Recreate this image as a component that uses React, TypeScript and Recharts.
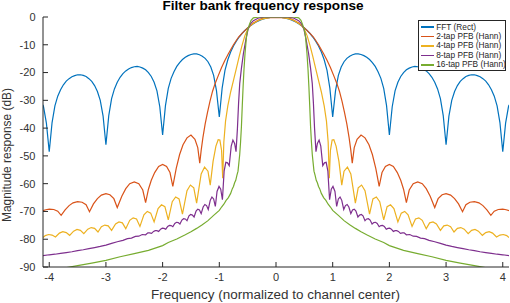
import React from "react";
import { LineChart, Line, XAxis, YAxis, Legend } from "recharts";

const xTicks = [-4, -3, -2, -1, 0, 1, 2, 3, 4];
const yTicks = [-90, -80, -70, -60, -50, -40, -30, -20, -10, 0];
const yMinorTicks = [
  -90, -88, -86, -84, -82, -80, -78, -76, -74, -72, -70, -68, -66, -64, -62, -60, -58, -56, -54, -52, -50, -48, -46,
  -44, -42, -40, -38, -36, -34, -32, -30, -28, -26, -24, -22, -20, -18, -16, -14, -12, -10, -8, -6, -4, -2, 0,
];

// positive-frequency half of each response, [freq, dB]; curves are symmetric about 0
const fftHalf: [number, number][] = [
  [0, 0], [0.05, -0.04], [0.1, -0.14], [0.15, -0.32], [0.2, -0.58], [0.25, -0.91], [0.3, -1.32], [0.35, -1.82],
  [0.4, -2.42], [0.45, -3.11], [0.5, -3.92], [0.55, -4.86], [0.6, -5.94], [0.65, -7.2], [0.7, -8.68], [0.75, -10.45],
  [0.8, -12.62], [0.85, -15.39], [0.9, -19.22], [0.95, -25.6], [1.0, -36], [1.05, -26.5], [1.1, -21.0], [1.15, -18.0],
  [1.2, -16.1], [1.25, -14.9], [1.3, -14.1], [1.35, -13.6], [1.4, -13.3], [1.45, -13.3], [1.5, -13.5], [1.55, -13.9],
  [1.6, -14.5], [1.65, -15.3], [1.7, -16.4], [1.75, -17.8], [1.8, -19.7], [1.85, -22.1], [1.9, -25.7], [1.95, -31.9],
  [2.0, -42.5], [2.05, -32.3], [2.1, -26.6], [2.15, -23.5], [2.2, -21.4], [2.25, -20.0], [2.3, -19.0], [2.35, -18.4],
  [2.4, -18.0], [2.45, -17.8], [2.5, -17.9], [2.55, -18.2], [2.6, -18.7], [2.65, -19.4], [2.7, -20.4], [2.75, -21.7],
  [2.8, -23.5], [2.85, -25.9], [2.9, -29.4], [2.95, -35.5], [3.0, -46], [3.05, -35.7], [3.1, -30.0], [3.15, -26.8],
  [3.2, -24.7], [3.25, -23.2], [3.3, -22.2], [3.35, -21.4], [3.4, -21.0], [3.45, -20.8], [3.5, -20.8], [3.55, -21.1],
  [3.6, -21.5], [3.65, -22.2], [3.7, -23.1], [3.75, -24.4], [3.8, -26.2], [3.85, -28.5], [3.9, -32.0], [3.95, -38.0],
  [4.0, -48.5], [4.05, -38.2], [4.1, -32.4], [4.11, -31.6],
];

const pfb2Half: [number, number][] = [
  [0, -0.2], [0.1, -0.25], [0.2, -0.45], [0.25, -0.6], [0.3, -1.0], [0.4, -2.2], [0.5, -3.9], [0.6, -5.9],
  [0.66, -7.2], [0.75, -10], [0.84, -13.2], [0.9, -15.6], [0.96, -18.2], [1.02, -21.2], [1.075, -24], [1.12, -26.8],
  [1.165, -30.4], [1.21, -34.5], [1.25, -38.6], [1.29, -43.5], [1.32, -48], [1.345, -52.6], [1.38, -47], [1.43, -44],
  [1.5, -42.5], [1.57, -43.5], [1.64, -46], [1.7, -49.5], [1.76, -54.5], [1.82, -61], [1.87, -56], [1.93, -53.8],
  [2.0, -53.1], [2.07, -53.8], [2.14, -56], [2.2, -58.8], [2.25, -62], [2.3, -66.8], [2.35, -62.3], [2.42, -60],
  [2.5, -59.4], [2.58, -60], [2.65, -61.8], [2.72, -64.5], [2.8, -68.6], [2.86, -65.4], [2.93, -64], [3.0, -63.6],
  [3.08, -64.1], [3.15, -65.4], [3.22, -67.3], [3.29, -70.1], [3.35, -67.6], [3.42, -66.7], [3.5, -66.5], [3.58, -66.9],
  [3.65, -67.9], [3.72, -69.4], [3.79, -71.4], [3.85, -69.9], [3.92, -69.3], [4.0, -69.2], [4.06, -69.4], [4.11, -69.7],
];

const pfb4Half: [number, number][] = [
  [0, -0.1], [0.1, -0.15], [0.2, -0.5], [0.3, -1.1], [0.4, -2.3], [0.45, -3.1], [0.5, -4.4], [0.55, -6.8],
  [0.6, -10.3], [0.65, -14.3], [0.7, -18.6], [0.75, -22.8], [0.8, -27], [0.85, -32], [0.89, -37.5], [0.92, -45],
  [0.94, -58], [0.96, -48], [0.99, -44.3], [1.02, -44.2], [1.06, -46.5], [1.11, -52], [1.16, -60.5], [1.2, -55.5],
  [1.26, -54], [1.32, -56.5], [1.4, -67], [1.45, -61.5], [1.51, -60.5], [1.57, -62.5], [1.65, -71], [1.71, -65.5],
  [1.77, -64.8], [1.83, -66.5], [1.9, -73], [1.96, -68.3], [2.02, -67.6], [2.08, -69], [2.15, -73.8], [2.21, -70.6],
  [2.27, -70], [2.33, -71.2], [2.4, -75.4], [2.46, -72.7], [2.52, -72.3], [2.58, -73.2], [2.65, -76.2], [2.71, -74.1],
  [2.77, -73.8], [2.83, -74.5], [2.9, -76.8], [2.96, -75.2], [3.02, -74.9], [3.08, -75.5], [3.14, -77.4], [3.2, -76.1],
  [3.26, -75.8], [3.32, -76.4], [3.39, -78], [3.45, -76.8], [3.51, -76.5], [3.57, -77.1], [3.64, -78.6], [3.7, -77.6],
  [3.76, -77.3], [3.82, -77.8], [3.89, -79.2], [3.95, -78.5], [4.01, -78.3], [4.07, -78.7], [4.11, -79.4],
];

const pfb8Half: [number, number][] = [
  [0, 0], [0.2, -0.05], [0.3, -0.3], [0.4, -1.3], [0.45, -2.5], [0.49, -4.2], [0.53, -8], [0.575, -13.2],
  [0.61, -18.5], [0.64, -24], [0.66, -31], [0.68, -40], [0.705, -48.5], [0.73, -45.5], [0.76, -44.3], [0.79, -46.5],
  [0.825, -53.5], [0.855, -52.5], [0.885, -52.3], [0.915, -55.5], [0.945, -65.8], [0.975, -62], [1.005, -61],
  [1.04, -62.8], [1.07, -68.2], [1.1, -65.5], [1.13, -64.8], [1.16, -66], [1.195, -69.3], [1.225, -67.9],
  [1.255, -67.5], [1.285, -68.4], [1.32, -70.8], [1.35, -69.5], [1.38, -69.2], [1.41, -69.9], [1.445, -72],
  [1.475, -71.3], [1.505, -71.1], [1.535, -71.6], [1.57, -73.3], [1.6, -72.7], [1.63, -72.6], [1.66, -73.1],
  [1.695, -74.5], [1.725, -74], [1.755, -73.9], [1.785, -74.3], [1.82, -75.5], [1.85, -75.1], [1.88, -75],
  [1.91, -75.4], [1.945, -76.4], [1.975, -76.1], [2.005, -76], [2.035, -76.4], [2.07, -77.2], [2.1, -76.9],
  [2.13, -76.9], [2.16, -77.2], [2.195, -77.9], [2.23, -77.7], [2.26, -77.7], [2.3, -78.4], [2.36, -78.3],
  [2.42, -78.9], [2.48, -79.0], [2.55, -79.6], [2.62, -79.8], [2.7, -80.4], [2.8, -80.9], [2.9, -81.5], [3.0, -82.1],
  [3.1, -82.6], [3.2, -83.0], [3.3, -83.4], [3.4, -83.8], [3.5, -84.1], [3.6, -84.5], [3.7, -84.8], [3.8, -85.1],
  [3.9, -85.4], [4.0, -85.6], [4.11, -85.9],
];

const pfb16Half: [number, number][] = [
  [0, 0], [0.3, 0], [0.4, -0.3], [0.44, -1.2], [0.47, -2.8], [0.5, -4.6], [0.52, -7], [0.546, -13], [0.565, -19],
  [0.58, -25], [0.595, -32], [0.61, -39.5], [0.625, -45], [0.64, -49.5], [0.655, -52.5], [0.67, -55.5], [0.69, -57],
  [0.71, -58.8], [0.73, -59.7], [0.75, -61], [0.77, -61.8], [0.8, -63.5], [0.84, -65], [0.88, -66], [0.92, -67.4],
  [0.96, -68.4], [1.0, -69.6], [1.1, -71.4], [1.2, -73.3], [1.3, -74.8], [1.4, -76.1], [1.5, -77.3], [1.6, -78.4],
  [1.75, -79.9], [1.9, -81.2], [2.0, -82.3], [2.25, -84], [2.5, -85.2], [2.75, -86.3], [3.0, -87.6], [3.25, -88.6],
  [3.5, -89.5], [3.69, -90.2], [3.9, -91], [4.11, -91.8],
];

const seriesNames = ["FFT (Rect)", "2-tap PFB (Hann)", "4-tap PFB (Hann)", "8-tap PFB (Hann)", "16-tap PFB (Hann)"];
const seriesColors = ["#0072BD", "#D95319", "#EDB120", "#7E2F8E", "#77AC30"];
const seriesHalves = [fftHalf, pfb2Half, pfb4Half, pfb8Half, pfb16Half];

function mirror(half: [number, number][]) {
  const pts: { x: number; y: number }[] = [];
  for (let i = half.length - 1; i > 0; i--) pts.push({ x: -half[i][0], y: half[i][1] });
  for (const [x, y] of half) pts.push({ x, y });
  return pts;
}

const series = seriesNames.map((name, i) => ({ name, color: seriesColors[i], data: mirror(seriesHalves[i]) }));

const AXIS = "#262626";
const FONT = '"Liberation Sans", Arial, Helvetica, sans-serif';

// legend keeps the plotting order (Recharts would sort it by name)
function LegendBox() {
  return (
    <div
      style={{
        border: `1px solid ${AXIS}`,
        background: "#fff",
        padding: "1.5px 0 0.5px 1.5px",
        fontFamily: FONT,
        fontSize: 8.3,
        lineHeight: "9.4px",
        color: "#262626",
        boxSizing: "border-box",
        width: 88,
      }}
    >
      {series.map((s) => (
        <div key={s.name} style={{ display: "flex", alignItems: "center", height: 9.4, whiteSpace: "nowrap" }}>
          <span style={{ flex: "0 0 13px", height: 1.5, background: s.color, marginRight: 2.7 }} />
          <span>{s.name}</span>
        </div>
      ))}
    </div>
  );
}

export default function App() {
  const domX: [number, number] = [-4.11, 4.11];
  const domY: [number, number] = [-90, 0];
  return (
    <div style={{ position: "absolute", left: 0, top: 0, width: 510, height: 303, background: "#fff", fontFamily: FONT }}>
      <LineChart width={510} height={303} margin={{ top: 17, right: 1, bottom: 0, left: 0 }}>
        <XAxis
          xAxisId="main"
          type="number"
          dataKey="x"
          domain={domX}
          allowDataOverflow
          ticks={xTicks}
          height={36}
          tickSize={-5}
          tickMargin={11.5}
          stroke={AXIS}
          tick={{ fontSize: 11, fill: "#333" }}
        />
        <XAxis
          xAxisId="top"
          orientation="top"
          type="number"
          dataKey="x"
          domain={domX}
          allowDataOverflow
          ticks={xTicks}
          mirror
          height={0}
          tickSize={5}
          tick={false}
          stroke={AXIS}
        />
        <YAxis
          yAxisId="main"
          domain={domY}
          allowDataOverflow
          ticks={yTicks}
          width={43}
          tickSize={-5}
          tickMargin={12.5}
          stroke={AXIS}
          tick={{ fontSize: 11, fill: "#333" }}
        />
        <YAxis
          yAxisId="minorL"
          domain={domY}
          allowDataOverflow
          ticks={yMinorTicks}
          mirror
          width={0}
          tickSize={2.5}
          tick={false}
          axisLine={false}
          stroke={AXIS}
        />
        <YAxis
          yAxisId="right"
          orientation="right"
          domain={domY}
          allowDataOverflow
          ticks={yTicks}
          mirror
          width={0}
          tickSize={5}
          tick={false}
          stroke={AXIS}
        />
        <YAxis
          yAxisId="minorR"
          orientation="right"
          domain={domY}
          allowDataOverflow
          ticks={yMinorTicks}
          mirror
          width={0}
          tickSize={2.5}
          tick={false}
          axisLine={false}
          stroke={AXIS}
        />
        {series.map((s) => (
          <Line
            key={s.name}
            xAxisId="main"
            yAxisId="main"
            data={s.data}
            dataKey="y"
            name={s.name}
            type="linear"
            stroke={s.color}
            strokeWidth={1.2}
            dot={false}
            activeDot={false}
            isAnimationActive={false}
          />
        ))}
        <Legend
          layout="vertical"
          align="center"
          verticalAlign="middle"
          wrapperStyle={{ left: 418, top: 20, width: 88 }}
          content={() => <LegendBox />}
        />
      </LineChart>
      <svg width={510} height={303} style={{ position: "absolute", left: 0, top: 0, pointerEvents: "none" }}>
        <text x={263} y={10} textAnchor="middle" fontSize={12.5} fontWeight="bold" fill="#000" textLength={201} lengthAdjust="spacingAndGlyphs">
          Filter bank frequency response
        </text>
        <text x={275.5} y={299} textAnchor="middle" fontSize={12.5} fill="#333" textLength={249} lengthAdjust="spacingAndGlyphs">
          Frequency (normalized to channel center)
        </text>
        <text
          x={0}
          y={0}
          transform="translate(10.5,155) rotate(-90)"
          textAnchor="middle"
          fontSize={12}
          fill="#333"
          textLength={134}
          lengthAdjust="spacingAndGlyphs"
        >
          Magnitude response (dB)
        </text>
      </svg>
    </div>
  );
}
